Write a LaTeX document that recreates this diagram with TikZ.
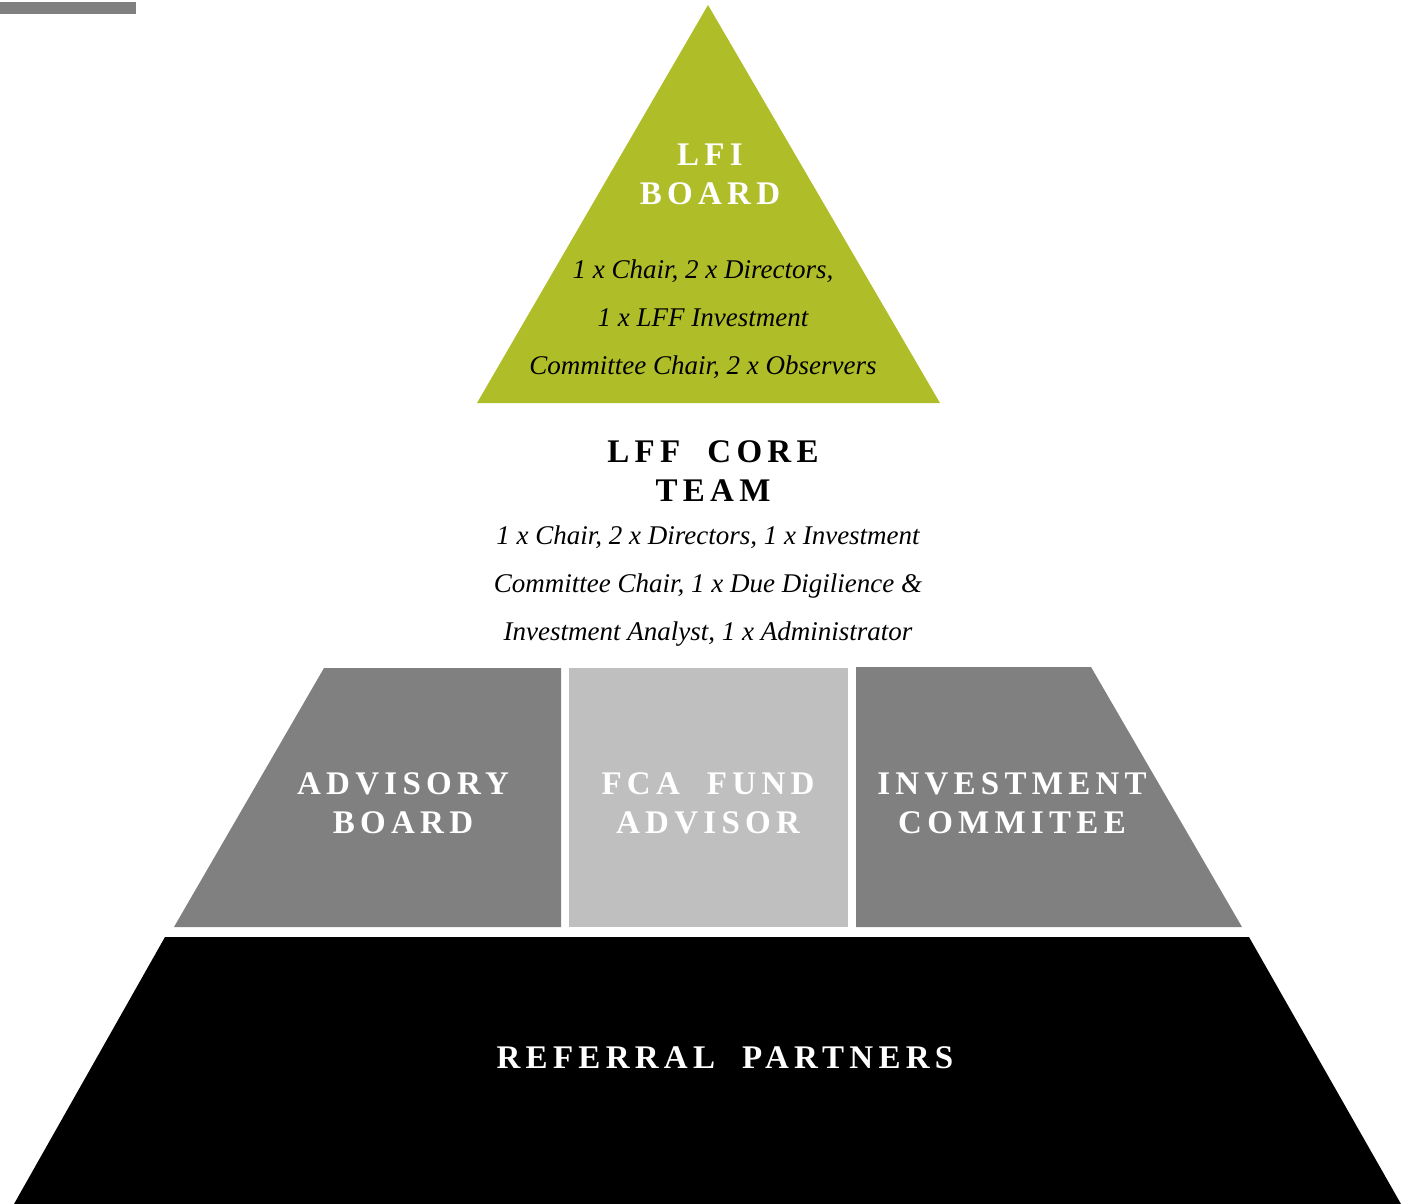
\documentclass[tikz,border=0pt]{standalone}
\usepackage{fontspec}
\setmainfont{Liberation Serif}
\newfontfamily\headfont[LetterSpace=16]{Liberation Serif}
\usepackage{tikz}
\usetikzlibrary{positioning}
\definecolor{lfigreen}{RGB}{175,190,40}
\definecolor{tiergray}{RGB}{128,128,128}
\definecolor{fcagray}{RGB}{191,191,191}
\tikzset{
  head/.style={font=\headfont\bfseries\fontsize{33}{39}\selectfont, align=center, inner sep=0pt},
  detail/.style={font=\itshape\fontsize{27}{48}\selectfont, align=center, inner sep=0pt},
}

\begin{document}
\begin{tikzpicture}[x=1pt,y=-1pt]
            \useasboundingbox (0,0) rectangle (1401,1204);
            % Marker bar
            \fill[tiergray] (0,2) rectangle (136,14);
            % Top (LFI board)
            \fill[lfigreen] (708,5) -- (940,403) -- (477,403) -- cycle;
            \node[head, text=white] (lfi) at (710,174) {LFI\\BOARD};
            \node[detail] (lfidetail) at (703,319) {1 x Chair, 2 x Directors,\\1 x LFF Investment\\Committee Chair, 2 x Observers};
            % Core team
            \node[head] (core) at (713,471) {LFF\ \ CORE\\TEAM};
            \node[detail] (coredetail) at (708,586) {1 x Chair, 2 x Directors, 1 x Investment\\Committee Chair, 1 x Due Digilience \&\\Investment Analyst, 1 x Administrator};
            % Middle tier
            \fill[tiergray] (324,668) -- (561,668) -- (561,927) -- (174,927) -- cycle;
            \fill[fcagray] (569,668) rectangle (848,927);
            \fill[tiergray] (856,667) -- (1091,667) -- (1242,927) -- (856,927) -- cycle;
            \node[head, text=white] (advisory) at (403,803) {ADVISORY\\BOARD};
            \node[head, text=white] (fca) at (708,803) {FCA\ \ FUND\\ADVISOR};
            \node[head, text=white] (invest) at (1012,803) {INVESTMENT\\COMMITEE};
            % Bottom tier
            \fill[black] (165,937) -- (1249,937) -- (1401,1204) -- (14,1204) -- cycle;
            \node[head, text=white] (referral) at (725,1058) {REFERRAL\ \ PARTNERS};
        \end{tikzpicture}
\end{document}
